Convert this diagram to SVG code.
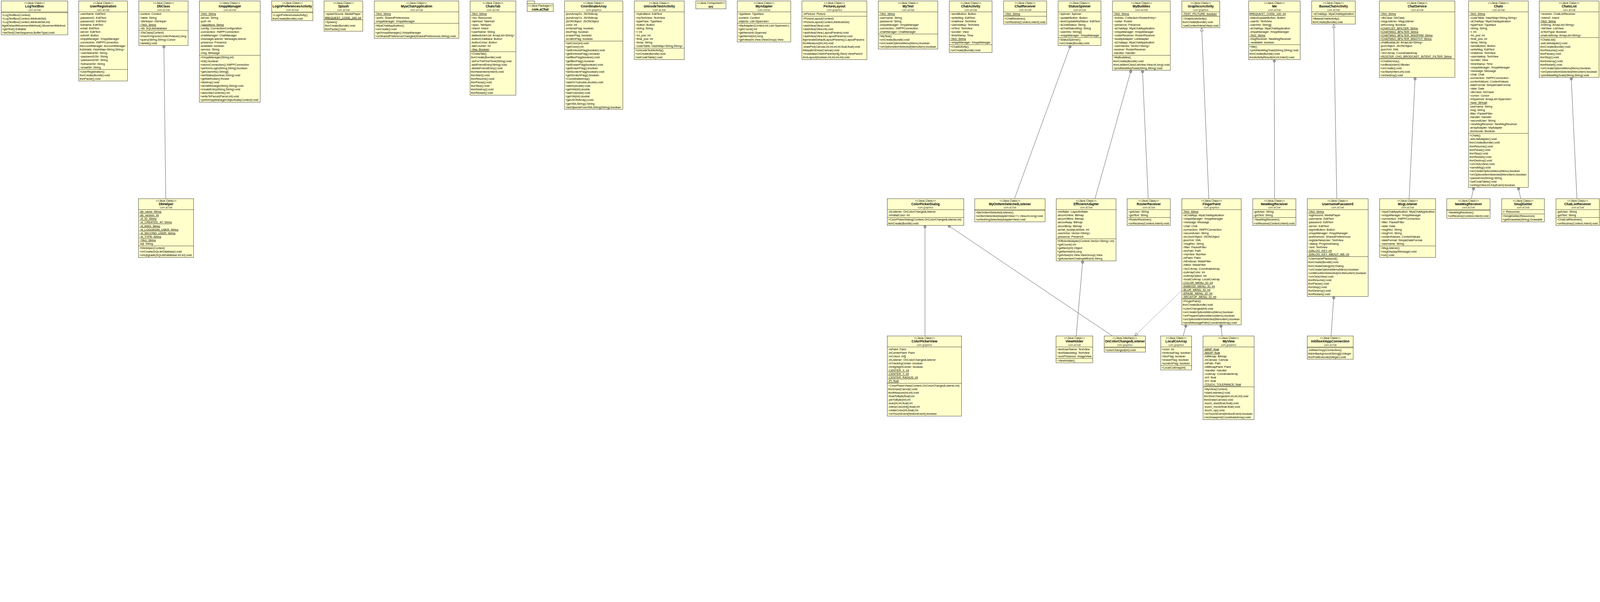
<svg xmlns="http://www.w3.org/2000/svg" width="5863" height="1540" viewBox="0 0 5863 1540" preserveAspectRatio="xMinYMin meet">
<style>
svg{width:100vw;height:100vh;max-width:5863px;max-height:1540px;display:block}
text{font-family:"Liberation Sans",Arial,"DejaVu Sans",sans-serif;font-size:10.5px;fill:#000}
.c{text-anchor:middle}
.n{font-weight:bold;font-size:12px}
.p{font-size:9.5px;fill:#404040}
.u{text-decoration:underline}
.b rect{fill:#FFFFCC;stroke:#000;stroke-width:1}
.b line{stroke:#000;stroke-width:1}
#edges path{fill:none;stroke:#000;stroke-width:0.9}
#edges .d{stroke-dasharray:3 2}
</style>
<defs>
<marker id="nest" markerUnits="userSpaceOnUse" viewBox="-1 -6 12 12" refX="0" refY="0" markerWidth="12" markerHeight="12" orient="auto" overflow="visible">
<circle cx="5" cy="0" r="4.5" fill="none" stroke="#000" stroke-width="0.9"/>
<line x1="5" y1="-4.5" x2="5" y2="4.5" stroke="#000" stroke-width="0.9"/>
</marker>
<marker id="gen" markerUnits="userSpaceOnUse" viewBox="-13 -6 14 12" refX="0" refY="0" markerWidth="14" markerHeight="12" orient="auto" overflow="visible">
<path d="M0 0L-12 -5L-12 5Z" fill="#fff" stroke="#000" stroke-width="0.9" stroke-dasharray="none"/>
</marker>
</defs>
<rect x="0" y="0" width="5863" height="1540" fill="#fff"/>
<g transform="translate(0.5 0.5)">
<g id="edges">
<path d="M600 166L607 727" marker-start="url(#nest)"/>
<path d="M3922 166L3717 727" marker-start="url(#nest)"/>
<path d="M4144 257L4012 727" marker-start="url(#nest)"/>
<path d="M4186 257L4207 727" marker-start="url(#nest)"/>
<path d="M4429 727L4403 101" marker-end="url(#gen)"/>
<path d="M4669 218L4670 727" marker-start="url(#nest)"/>
<path d="M4898 727L4887 88" marker-end="url(#gen)"/>
<path d="M5185 283L5163 727" marker-start="url(#nest)"/>
<path d="M5757 283L5778 727" marker-start="url(#nest)"/>
<path d="M5400 686L5391 727" marker-start="url(#nest)"/>
<path d="M5563 686L5572 727" marker-start="url(#nest)"/>
<path d="M3389 825L3389 1230" marker-start="url(#nest)"/>
<path d="M3474 825L4076 1230" marker-start="url(#nest)"/>
<path d="M3967 955L3943 1230" marker-start="url(#nest)"/>
<path class="d" d="M4330 1063L4157 1230" marker-end="url(#gen)"/>
<path d="M4346 1189L4335 1230" marker-start="url(#nest)"/>
<path d="M4473 1189L4478 1230" marker-start="url(#nest)"/>
<path d="M4887 1085L4877 1230" marker-start="url(#nest)"/>
</g>

<g id="LogTextBox" class="b">
<rect x="4" y="3" width="244" height="124"/>
<line x1="4" y1="43" x2="248" y2="43"/><line x1="4" y1="46" x2="248" y2="46"/>
<text class="c" x="126" y="14">&lt;&lt;Java Class&gt;&gt;</text>
<text class="c n" x="126" y="27">LogTextBox</text>
<text class="c p" x="126" y="39">com.aChat</text>
<text x="7" y="57.5"><tspan>+LogTextBox(Context)</tspan><tspan x="7" dy="13">+LogTextBox(Context,AttributeSet)</tspan><tspan x="7" dy="13">+LogTextBox(Context,AttributeSet,int)</tspan><tspan x="7" dy="13">#getDefaultMovementMethod():MovementMethod</tspan><tspan x="7" dy="13">+getText():Editable</tspan><tspan x="7" dy="13">+setText(CharSequence,BufferType):void</tspan></text>
</g>

<g id="UserRegistration" class="b">
<rect x="288" y="3" width="179" height="293"/>
<line x1="288" y1="43" x2="467" y2="43"/><line x1="288" y1="254" x2="467" y2="254"/>
<text class="c" x="377.5" y="14">&lt;&lt;Java Class&gt;&gt;</text>
<text class="c n" x="377.5" y="27">UserRegistration</text>
<text class="c p" x="377.5" y="39">com.aChat</text>
<text x="291" y="54.5"><tspan>-userName: EditText</tspan><tspan x="291" dy="13">-password1: EditText</tspan><tspan x="291" dy="13">-password2: EditText</tspan><tspan x="291" dy="13">-fullname: EditText</tspan><tspan x="291" dy="13">-email: EditText</tspan><tspan x="291" dy="13">-server: EditText</tspan><tspan x="291" dy="13">-submit: Button</tspan><tspan x="291" dy="13">-xmppManager: XmppManager</tspan><tspan x="291" dy="13">-connection: XMPPConnection</tspan><tspan x="291" dy="13">#accountManager: AccountManager</tspan><tspan x="291" dy="13">#uDetails: HashMap&lt;String,String&gt;</tspan><tspan x="291" dy="13">~userNameStr: String</tspan><tspan x="291" dy="13">~password1Str: String</tspan><tspan x="291" dy="13">~password2Str: String</tspan><tspan x="291" dy="13">~fullnameStr: String</tspan><tspan x="291" dy="13">~emailStr: String</tspan></text>
<text x="291" y="265.5"><tspan>+UserRegistration()</tspan><tspan x="291" dy="13">#onCreate(Bundle):void</tspan><tspan x="291" dy="13">#onPause():void</tspan></text>
</g>

<g id="DbClass" class="b">
<rect x="508" y="3" width="181" height="163"/>
<line x1="508" y1="43" x2="689" y2="43"/><line x1="508" y1="111" x2="689" y2="111"/>
<text class="c" x="598.5" y="14">&lt;&lt;Java Class&gt;&gt;</text>
<text class="c n" x="598.5" y="27">DbClass</text>
<text class="c p" x="598.5" y="39">com.aChat</text>
<text x="511" y="54.5"><tspan>-context: Context</tspan><tspan x="511" dy="13">~table: String</tspan><tspan x="511" dy="13">~dbHelper: DbHelper</tspan><tspan x="511" dy="13" class="u">~TAG: String</tspan><tspan x="511" dy="13">~db: SQLiteDatabase</tspan></text>
<text x="511" y="122.5"><tspan>~DbClass(Context)</tspan><tspan x="511" dy="13">+insertOrIgnore(ContentValues):long</tspan><tspan x="511" dy="13">+query(String,String):Cursor</tspan><tspan x="511" dy="13">+delete():void</tspan></text>
</g>

<g id="XmppManager" class="b">
<rect x="730" y="3" width="223" height="371"/>
<line x1="730" y1="43" x2="953" y2="43"/><line x1="730" y1="202" x2="953" y2="202"/>
<text class="c" x="841.5" y="14">&lt;&lt;Java Class&gt;&gt;</text>
<text class="c n" x="841.5" y="27">XmppManager</text>
<text class="c p" x="841.5" y="39">com.aChat</text>
<text x="733" y="54.5"><tspan class="u">-TAG: String</tspan><tspan x="733" dy="13">-server: String</tspan><tspan x="733" dy="13">-port: int</tspan><tspan x="733" dy="13" class="u">~passWord: String</tspan><tspan x="733" dy="13">-config: ConnectionConfiguration</tspan><tspan x="733" dy="13">-connection: XMPPConnection</tspan><tspan x="733" dy="13">-chatManager: ChatManager</tspan><tspan x="733" dy="13">-messageListener: MessageListener</tspan><tspan x="733" dy="13">-presence: Presence</tspan><tspan x="733" dy="13">-available: boolean</tspan><tspan x="733" dy="13">-service: String</tspan><tspan x="733" dy="13">-msg: Message</tspan></text>
<text x="733" y="213.5"><tspan>+XmppManager(String,int)</tspan><tspan x="733" dy="13">+init():boolean</tspan><tspan x="733" dy="13">+returnConnection():XMPPConnection</tspan><tspan x="733" dy="13">+performLogin(String,String):boolean</tspan><tspan x="733" dy="13">+getUserInfo():String[]</tspan><tspan x="733" dy="13">+setStatus(boolean,String):void</tspan><tspan x="733" dy="13">+getMeRoster():Roster</tspan><tspan x="733" dy="13">+destroy():void</tspan><tspan x="733" dy="13">+sendMessage(String,String):void</tspan><tspan x="733" dy="13">+createEntry(String,String):void</tspan><tspan x="733" dy="13">+describeContents():int</tspan><tspan x="733" dy="13">+writeToParcel(Parcel,int):void</tspan><tspan x="733" dy="13">+printXmppManagerObjectData(Context):void</tspan></text>
</g>

<g id="LoginPreferencesActivity" class="b">
<rect x="995" y="3" width="151" height="72"/>
<line x1="995" y1="43" x2="1146" y2="43"/><line x1="995" y1="46" x2="1146" y2="46"/>
<text class="c" x="1070.5" y="14">&lt;&lt;Java Class&gt;&gt;</text>
<text class="c n" x="1070.5" y="27">LoginPreferencesActivity</text>
<text class="c p" x="1070.5" y="39">com.aChat</text>
<text x="998" y="57.5"><tspan>+LoginPreferencesActivity()</tspan><tspan x="998" dy="13">#onCreate(Bundle):void</tspan></text>
</g>

<g id="Splash" class="b">
<rect x="1187" y="3" width="142" height="111"/>
<line x1="1187" y1="43" x2="1329" y2="43"/><line x1="1187" y1="72" x2="1329" y2="72"/>
<text class="c" x="1258" y="14">&lt;&lt;Java Class&gt;&gt;</text>
<text class="c n" x="1258" y="27">Splash</text>
<text class="c p" x="1258" y="39">com.aChat</text>
<text x="1190" y="54.5"><tspan>~splashSound: MediaPlayer</tspan><tspan x="1190" dy="13" class="u">#REQUEST_CODE_100: int</tspan></text>
<text x="1190" y="83.5"><tspan>+Splash()</tspan><tspan x="1190" dy="13">#onCreate(Bundle):void</tspan><tspan x="1190" dy="13">#onPause():void</tspan></text>
</g>

<g id="MyaChatApplication" class="b">
<rect x="1371" y="3" width="310" height="137"/>
<line x1="1371" y1="43" x2="1681" y2="43"/><line x1="1371" y1="85" x2="1681" y2="85"/>
<text class="c" x="1526" y="14">&lt;&lt;Java Class&gt;&gt;</text>
<text class="c n" x="1526" y="27">MyaChatApplication</text>
<text class="c p" x="1526" y="39">com.aChat</text>
<text x="1374" y="54.5"><tspan class="u">-TAG: String</tspan><tspan x="1374" dy="13">~prefs: SharedPreferences</tspan><tspan x="1374" dy="13">-xmppManager: XmppManager</tspan></text>
<text x="1374" y="96.5"><tspan>+MyaChatApplication()</tspan><tspan x="1374" dy="13">+onCreate():void</tspan><tspan x="1374" dy="13">+getXmppManager():XmppManager</tspan><tspan x="1374" dy="13">+onSharedPreferenceChanged(SharedPreferences,String):void</tspan></text>
</g>

<g id="ChatsTab" class="b">
<rect x="1722" y="3" width="168" height="345"/>
<line x1="1722" y1="43" x2="1890" y2="43"/><line x1="1722" y1="189" x2="1890" y2="189"/>
<text class="c" x="1806" y="14">&lt;&lt;Java Class&gt;&gt;</text>
<text class="c n" x="1806" y="27">ChatsTab</text>
<text class="c p" x="1806" y="39">com.aChat</text>
<text x="1725" y="54.5"><tspan class="u">-TAG: String</tspan><tspan x="1725" dy="13">~res: Resources</tspan><tspan x="1725" dy="13">~tabHost: TabHost</tspan><tspan x="1725" dy="13">~spec: TabSpec</tspan><tspan x="1725" dy="13">~intent: Intent</tspan><tspan x="1725" dy="13">+userName: String</tspan><tspan x="1725" dy="13">-tabbedUserList: ArrayList&lt;String&gt;</tspan><tspan x="1725" dy="13">-buttonChatBack: Button</tspan><tspan x="1725" dy="13">-buttonClose: Button</tspan><tspan x="1725" dy="13">-tabCounter: int</tspan><tspan x="1725" dy="13" class="u">~flag: Boolean</tspan></text>
<text x="1725" y="200.5"><tspan>+ChatsTab()</tspan><tspan x="1725" dy="13">#onCreate(Bundle):void</tspan><tspan x="1725" dy="13">-doForTheFirstTime(String):void</tspan><tspan x="1725" dy="13">-addFriendEntry(String):void</tspan><tspan x="1725" dy="13">-deleteFriendEntry():void</tspan><tspan x="1725" dy="13">#onNewIntent(Intent):void</tspan><tspan x="1725" dy="13">#onStart():void</tspan><tspan x="1725" dy="13">#onResume():void</tspan><tspan x="1725" dy="13">#onPause():void</tspan><tspan x="1725" dy="13">#onStop():void</tspan><tspan x="1725" dy="13">#onDestroy():void</tspan><tspan x="1725" dy="13">#onRestart():void</tspan></text>
</g>

<g id="pkg-com.aChat" class="b">
<rect x="1931" y="3" width="28" height="10"/>
<rect x="1931" y="13" width="96" height="29"/>
<text class="c" x="1979" y="24.5">&lt;&lt;Java Package&gt;&gt;</text>
<text class="c n" x="1979" y="38">com.aChat</text>
</g>

<g id="CoordinateArray" class="b">
<rect x="2068" y="3" width="214" height="397"/>
<line x1="2068" y1="43" x2="2282" y2="43"/><line x1="2068" y1="150" x2="2282" y2="150"/>
<text class="c" x="2175" y="14">&lt;&lt;Java Class&gt;&gt;</text>
<text class="c n" x="2175" y="27">CoordinateArray</text>
<text class="c p" x="2175" y="39">com.graphics</text>
<text x="2071" y="54.5"><tspan>-jsonArrayXs: JSONArray</tspan><tspan x="2071" dy="13">-jsonArrayYs: JSONArray</tspan><tspan x="2071" dy="13">-jSONObject: JSONObject</tspan><tspan x="2071" dy="13">-color: int</tspan><tspan x="2071" dy="13">-embossFlag: boolean</tspan><tspan x="2071" dy="13">-blurFlag: boolean</tspan><tspan x="2071" dy="13">-eraserFlag: boolean</tspan><tspan x="2071" dy="13">-scratchFlag: boolean</tspan></text>
<text x="2071" y="161.5"><tspan>+setColor(int):void</tspan><tspan x="2071" dy="13">+getColor():int</tspan><tspan x="2071" dy="13">+setEmbossFlag(boolean):void</tspan><tspan x="2071" dy="13">+getEmbossFlag():boolean</tspan><tspan x="2071" dy="13">+setBlurFlag(boolean):void</tspan><tspan x="2071" dy="13">+getBlurFlag():boolean</tspan><tspan x="2071" dy="13">+setEraserFlag(boolean):void</tspan><tspan x="2071" dy="13">+getEraserFlag():boolean</tspan><tspan x="2071" dy="13">+setScratchFlag(boolean):void</tspan><tspan x="2071" dy="13">+getScratchFlag():boolean</tspan><tspan x="2071" dy="13">+CoordinateArray()</tspan><tspan x="2071" dy="13">+addXnY(double,double):void</tspan><tspan x="2071" dy="13">+addX(double):void</tspan><tspan x="2071" dy="13">+getXAt(int):double</tspan><tspan x="2071" dy="13">+addY(double):void</tspan><tspan x="2071" dy="13">+getYAt(int):double</tspan><tspan x="2071" dy="13">+getJSONArray():void</tspan><tspan x="2071" dy="13">+getXMLString():String</tspan><tspan x="2071" dy="13">+setOjbectsFromXMLString(String):boolean</tspan></text>
</g>

<g id="UnicodeTestActivity" class="b">
<rect x="2324" y="3" width="183" height="215"/>
<line x1="2324" y1="43" x2="2507" y2="43"/><line x1="2324" y1="176" x2="2507" y2="176"/>
<text class="c" x="2415.5" y="14">&lt;&lt;Java Class&gt;&gt;</text>
<text class="c n" x="2415.5" y="27">UnicodeTestActivity</text>
<text class="c p" x="2415.5" y="39">com.aChat</text>
<text x="2327" y="54.5"><tspan>~myEdittext: EditText</tspan><tspan x="2327" dy="13">~myTextView: TextView</tspan><tspan x="2327" dy="13">~typeFace: Typeface</tspan><tspan x="2327" dy="13">~button: Button</tspan><tspan x="2327" dy="13">~string: String</tspan><tspan x="2327" dy="13">~i: int</tspan><tspan x="2327" dy="13">~ini_pos: int</tspan><tspan x="2327" dy="13">~final_pos: int</tspan><tspan x="2327" dy="13">~temp: String</tspan><tspan x="2327" dy="13">~codeTable: HashMap&lt;String,String&gt;</tspan></text>
<text x="2327" y="187.5"><tspan>+UnicodeTestActivity()</tspan><tspan x="2327" dy="13">+onCreate(Bundle):void</tspan><tspan x="2327" dy="13">+setCodeTable():void</tspan></text>
</g>

<g id="src" class="b">
<rect x="2549" y="3" width="111" height="29"/>
<text class="c" x="2604.5" y="14.5">&lt;&lt;Java Component&gt;&gt;</text>
<text class="c n" x="2604.5" y="27.5">src</text>
</g>

<g id="MyAdapter" class="b">
<rect x="2701" y="3" width="196" height="150"/>
<line x1="2701" y1="43" x2="2897" y2="43"/><line x1="2701" y1="85" x2="2897" y2="85"/>
<text class="c" x="2799" y="14">&lt;&lt;Java Class&gt;&gt;</text>
<text class="c n" x="2799" y="27">MyAdapter</text>
<text class="c p" x="2799" y="39">com.extras</text>
<text x="2704" y="54.5"><tspan>~typeface: Typeface</tspan><tspan x="2704" dy="13">-context: Context</tspan><tspan x="2704" dy="13">-objects: List&lt;Spanned&gt;</tspan></text>
<text x="2704" y="96.5"><tspan>+MyAdapter(Context,int,List&lt;Spanned&gt;)</tspan><tspan x="2704" dy="13">+getCount():int</tspan><tspan x="2704" dy="13">+getItem(int):Spanned</tspan><tspan x="2704" dy="13">+getItemId(int):long</tspan><tspan x="2704" dy="13">+getView(int,View,ViewGroup):View</tspan></text>
</g>

<g id="PictureLayout" class="b">
<rect x="2938" y="3" width="238" height="215"/>
<line x1="2938" y1="43" x2="3176" y2="43"/><line x1="2938" y1="59" x2="3176" y2="59"/>
<text class="c" x="3057" y="14">&lt;&lt;Java Class&gt;&gt;</text>
<text class="c n" x="3057" y="27">PictureLayout</text>
<text class="c p" x="3057" y="39">com.graphics</text>
<text x="2941" y="54.5">-mPicture: Picture</text>
<text x="2941" y="70.5"><tspan>+PictureLayout(Context)</tspan><tspan x="2941" dy="13">+PictureLayout(Context,AttributeSet)</tspan><tspan x="2941" dy="13">+addView(View):void</tspan><tspan x="2941" dy="13">+addView(View,int):void</tspan><tspan x="2941" dy="13">+addView(View,LayoutParams):void</tspan><tspan x="2941" dy="13">+addView(View,int,LayoutParams):void</tspan><tspan x="2941" dy="13">#generateDefaultLayoutParams():LayoutParams</tspan><tspan x="2941" dy="13">#onMeasure(int,int):void</tspan><tspan x="2941" dy="13">-drawPict(Canvas,int,int,int,int,float,float):void</tspan><tspan x="2941" dy="13">#dispatchDraw(Canvas):void</tspan><tspan x="2941" dy="13">+invalidateChildInParent(int[],Rect):ViewParent</tspan><tspan x="2941" dy="13">#onLayout(boolean,int,int,int,int):void</tspan></text>
</g>

<g id="MyTest" class="b">
<rect x="3218" y="3" width="218" height="176"/>
<line x1="3218" y1="43" x2="3436" y2="43"/><line x1="3218" y1="124" x2="3436" y2="124"/>
<text class="c" x="3327" y="14">&lt;&lt;Java Class&gt;&gt;</text>
<text class="c n" x="3327" y="27">MyTest</text>
<text class="c p" x="3327" y="39">com.aChat</text>
<text x="3221" y="54.5"><tspan class="u">-TAG: String</tspan><tspan x="3221" dy="13">-username: String</tspan><tspan x="3221" dy="13">-password: String</tspan><tspan x="3221" dy="13">-xmppManager: XmppManager</tspan><tspan x="3221" dy="13">-connection: XMPPConnection</tspan><tspan x="3221" dy="13">-chatManager: ChatManager</tspan></text>
<text x="3221" y="135.5"><tspan>+MyTest()</tspan><tspan x="3221" dy="13">+onCreate(Bundle):void</tspan><tspan x="3221" dy="13">+onCreateOptionsMenu(Menu):boolean</tspan><tspan x="3221" dy="13">+onOptionsItemSelected(MenuItem):boolean</tspan></text>
</g>

<g id="ChatActivity" class="b">
<rect x="3478" y="3" width="157" height="189"/>
<line x1="3478" y1="43" x2="3635" y2="43"/><line x1="3478" y1="163" x2="3635" y2="163"/>
<text class="c" x="3556.5" y="14">&lt;&lt;Java Class&gt;&gt;</text>
<text class="c n" x="3556.5" y="27">ChatActivity</text>
<text class="c p" x="3556.5" y="39">com.aChat</text>
<text x="3481" y="54.5"><tspan>~sendButton: Button</tspan><tspan x="3481" dy="13">~writeMsg: EditText</tspan><tspan x="3481" dy="13">~chatArea: TextView</tspan><tspan x="3481" dy="13">~userIdattop: TextView</tspan><tspan x="3481" dy="13">~mText: TextView</tspan><tspan x="3481" dy="13">~scroller: View</tspan><tspan x="3481" dy="13">~timeStamp: Time</tspan><tspan x="3481" dy="13" class="u">-TAG: String</tspan><tspan x="3481" dy="13">~xmppManager: XmppManager</tspan></text>
<text x="3481" y="174.5"><tspan>+ChatActivity()</tspan><tspan x="3481" dy="13">+onCreate(Bundle):void</tspan></text>
</g>

<g id="ChatReceiver" class="b">
<rect x="3677" y="3" width="158" height="85"/>
<line x1="3677" y1="43" x2="3835" y2="43"/><line x1="3677" y1="59" x2="3835" y2="59"/>
<text class="c" x="3756" y="14">&lt;&lt;Java Class&gt;&gt;</text>
<text class="c n" x="3756" y="27">ChatReceiver</text>
<text class="c p" x="3756" y="39">com.aChat</text>
<text x="3680" y="54.5" class="u">-TAG: String</text>
<text x="3680" y="70.5"><tspan>+ChatReceiver()</tspan><tspan x="3680" dy="13">+onReceive(Context,Intent):void</tspan></text>
</g>

<g id="StatusSpinner" class="b">
<rect x="3877" y="3" width="157" height="163"/>
<line x1="3877" y1="43" x2="4034" y2="43"/><line x1="3877" y1="137" x2="4034" y2="137"/>
<text class="c" x="3955.5" y="14">&lt;&lt;Java Class&gt;&gt;</text>
<text class="c n" x="3955.5" y="27">StatusSpinner</text>
<text class="c p" x="3955.5" y="39">com.aChat</text>
<text x="3880" y="54.5"><tspan>~spinner: Spinner</tspan><tspan x="3880" dy="13">~updateButton: Button</tspan><tspan x="3880" dy="13">~text2UpdateMyStatus: EditText</tspan><tspan x="3880" dy="13">~aChatStatus: String</tspan><tspan x="3880" dy="13">~aChatStatusMsg: String</tspan><tspan x="3880" dy="13">~userInfo: String[]</tspan><tspan x="3880" dy="13">~xmppManager: XmppManager</tspan></text>
<text x="3880" y="148.5"><tspan>+StatusSpinner()</tspan><tspan x="3880" dy="13">+onCreate(Bundle):void</tspan></text>
</g>

<g id="MyBuddies" class="b">
<rect x="4076" y="3" width="212" height="254"/>
<line x1="4076" y1="43" x2="4288" y2="43"/><line x1="4076" y1="202" x2="4288" y2="202"/>
<text class="c" x="4182" y="14">&lt;&lt;Java Class&gt;&gt;</text>
<text class="c n" x="4182" y="27">MyBuddies</text>
<text class="c p" x="4182" y="39">com.aChat</text>
<text x="4079" y="54.5"><tspan class="u">-TAG: String</tspan><tspan x="4079" dy="13">~entries: Collection&lt;RosterEntry&gt;</tspan><tspan x="4079" dy="13">~roster: Roster</tspan><tspan x="4079" dy="13">~presence: Presence</tspan><tspan x="4079" dy="13">~aChatApp: MyaChatApplication</tspan><tspan x="4079" dy="13">~xmppManager: XmppManager</tspan><tspan x="4079" dy="13">~rosterReceiver: RosterReceiver</tspan><tspan x="4079" dy="13">~buddyAdapter: ListAdapter</tspan><tspan x="4079" dy="13">~aChatapp: MyaChatApplication</tspan><tspan x="4079" dy="13">~usernames: Vector&lt;String&gt;</tspan><tspan x="4079" dy="13">-receiver: RosterReceiver</tspan><tspan x="4079" dy="13">-handler: Handler</tspan></text>
<text x="4079" y="213.5"><tspan>+MyBuddies()</tspan><tspan x="4079" dy="13">#onCreate(Bundle):void</tspan><tspan x="4079" dy="13">#onListItemClick(ListView,View,int,long):void</tspan><tspan x="4079" dy="13">+printNewMsgToast(String,String):void</tspan></text>
</g>

<g id="GraphicsActivity" class="b">
<rect x="4330" y="3" width="139" height="98"/>
<line x1="4330" y1="43" x2="4469" y2="43"/><line x1="4330" y1="59" x2="4469" y2="59"/>
<text class="c" x="4399.5" y="14">&lt;&lt;Java Class&gt;&gt;</text>
<text class="c n" x="4399.5" y="27">GraphicsActivity</text>
<text class="c p" x="4399.5" y="39">com.graphics</text>
<text x="4333" y="54.5" class="u">-TEST_PICTURE: boolean</text>
<text x="4333" y="70.5"><tspan>~GraphicsActivity()</tspan><tspan x="4333" dy="13">#onCreate(Bundle):void</tspan><tspan x="4333" dy="13">+setContentView(View):void</tspan></text>
</g>

<g id="Me" class="b">
<rect x="4575" y="3" width="189" height="215"/>
<line x1="4575" y1="43" x2="4764" y2="43"/><line x1="4575" y1="163" x2="4764" y2="163"/>
<text class="c" x="4669.5" y="14">&lt;&lt;Java Class&gt;&gt;</text>
<text class="c n" x="4669.5" y="27">Me</text>
<text class="c p" x="4669.5" y="39">com.aChat</text>
<text x="4578" y="54.5"><tspan class="u">#REQUEST_CODE_100: int</tspan><tspan x="4578" dy="13">-statusUpdateButton: Button</tspan><tspan x="4578" dy="13">-userID: TextView</tspan><tspan x="4578" dy="13">-userInfo: String[]</tspan><tspan x="4578" dy="13">-aChatApp: MyaChatApplication</tspan><tspan x="4578" dy="13">-xmppManager: XmppManager</tspan><tspan x="4578" dy="13" class="u">-TAG: String</tspan><tspan x="4578" dy="13">-msgReceiver: NewMsgReceiver</tspan><tspan x="4578" dy="13">~available: boolean</tspan></text>
<text x="4578" y="174.5"><tspan>+Me()</tspan><tspan x="4578" dy="13">+printNewMsgToast(String,String):void</tspan><tspan x="4578" dy="13">#onCreate(Bundle):void</tspan><tspan x="4578" dy="13">#onActivityResult(int,int,Intent):void</tspan></text>
</g>

<g id="BaseaChatActivity" class="b">
<rect x="4806" y="3" width="160" height="85"/>
<line x1="4806" y1="43" x2="4966" y2="43"/><line x1="4806" y1="59" x2="4966" y2="59"/>
<text class="c" x="4886" y="14">&lt;&lt;Java Class&gt;&gt;</text>
<text class="c n" x="4886" y="27">BaseaChatActivity</text>
<text class="c p" x="4886" y="39">com.aChat</text>
<text x="4809" y="54.5">~aChatApp: MyaChatApplication</text>
<text x="4809" y="70.5"><tspan>+BaseaChatActivity()</tspan><tspan x="4809" dy="13">#onCreate(Bundle):void</tspan></text>
</g>

<g id="ChatService" class="b">
<rect x="5054" y="3" width="277" height="280"/>
<line x1="5054" y1="43" x2="5331" y2="43"/><line x1="5054" y1="215" x2="5331" y2="215"/>
<text class="c" x="5192.5" y="14">&lt;&lt;Java Class&gt;&gt;</text>
<text class="c n" x="5192.5" y="27">ChatService</text>
<text class="c p" x="5192.5" y="39">com.aChat</text>
<text x="5057" y="54.5"><tspan class="u">-TAG: String</tspan><tspan x="5057" dy="13">~dbClass: DbClass</tspan><tspan x="5057" dy="13">-msgListener: MsgListener</tspan><tspan x="5057" dy="13">-isRunning: Boolean</tspan><tspan x="5057" dy="13" class="u">+CHATLIST_BFILTER: String</tspan><tspan x="5057" dy="13" class="u">+CHATMSG_BFILTER: String</tspan><tspan x="5057" dy="13" class="u">+CHATMSG_BFILTER_MSGFRM: String</tspan><tspan x="5057" dy="13" class="u">+CHATMSG_BFILTER_MSGTXT: String</tspan><tspan x="5057" dy="13">-chatBuddyList: ArrayList&lt;String&gt;</tspan><tspan x="5057" dy="13">-jsonObject: JSONObject</tspan><tspan x="5057" dy="13">-jsonXml: XML</tspan><tspan x="5057" dy="13">~recCArray: CoordinateArray</tspan><tspan x="5057" dy="13" class="u">+ROSTER_CHG_BRODCAST_INTENT_FILTER: String</tspan></text>
<text x="5057" y="226.5"><tspan>+ChatService()</tspan><tspan x="5057" dy="13">+onBind(Intent):IBinder</tspan><tspan x="5057" dy="13">+onCreate():void</tspan><tspan x="5057" dy="13">+onStart(Intent,int):void</tspan><tspan x="5057" dy="13">+onDestroy():void</tspan></text>
</g>

<g id="Chats" class="b">
<rect x="5381" y="3" width="219" height="683"/>
<line x1="5381" y1="43" x2="5600" y2="43"/><line x1="5381" y1="488" x2="5600" y2="488"/>
<text class="c" x="5490.5" y="14">&lt;&lt;Java Class&gt;&gt;</text>
<text class="c n" x="5490.5" y="27">Chats</text>
<text class="c p" x="5490.5" y="39">com.aChat</text>
<text x="5384" y="54.5"><tspan class="u">-TAG: String</tspan><tspan x="5384" dy="13">~codeTable: HashMap&lt;String,String&gt;</tspan><tspan x="5384" dy="13">~aChatApp: MyaChatApplication</tspan><tspan x="5384" dy="13">~typeFace: Typeface</tspan><tspan x="5384" dy="13">~string: String</tspan><tspan x="5384" dy="13">~i: int</tspan><tspan x="5384" dy="13">~ini_pos: int</tspan><tspan x="5384" dy="13">~final_pos: int</tspan><tspan x="5384" dy="13">~temp: String</tspan><tspan x="5384" dy="13">~sendButton: Button</tspan><tspan x="5384" dy="13">~writeMsg: EditText</tspan><tspan x="5384" dy="13">~chatArea: TextView</tspan><tspan x="5384" dy="13">~userIdattop: TextView</tspan><tspan x="5384" dy="13">~scroller: View</tspan><tspan x="5384" dy="13">~timeStamp: Time</tspan><tspan x="5384" dy="13">~xmppManager: XmppManager</tspan><tspan x="5384" dy="13">~message: Message</tspan><tspan x="5384" dy="13">~chat: Chat</tspan><tspan x="5384" dy="13">-connection: XMPPConnection</tspan><tspan x="5384" dy="13">-contentValues: ContentValues</tspan><tspan x="5384" dy="13">-dateFormat: SimpleDateFormat</tspan><tspan x="5384" dy="13">~date: Date</tspan><tspan x="5384" dy="13">~dbClass: DbClass</tspan><tspan x="5384" dy="13">~cursor: Cursor</tspan><tspan x="5384" dy="13">-mSpannes: ArrayList&lt;Spanned&gt;</tspan><tspan x="5384" dy="13" class="u">~type: String[]</tspan><tspan x="5384" dy="13">-username: String</tspan><tspan x="5384" dy="13">-msg: String</tspan><tspan x="5384" dy="13">-filter: PacketFilter</tspan><tspan x="5384" dy="13">-handler: Handler</tspan><tspan x="5384" dy="13">~secondUser: String</tspan><tspan x="5384" dy="13">~newMsgReceiver: NewMsgReceiver</tspan><tspan x="5384" dy="13">-arrayAdapter: MyAdapter</tspan><tspan x="5384" dy="13">-isUnicode: Boolean</tspan></text>
<text x="5384" y="499.5"><tspan>+Chats()</tspan><tspan x="5384" dy="13">-setListAdapter():void</tspan><tspan x="5384" dy="13">#onCreate(Bundle):void</tspan><tspan x="5384" dy="13">#onResume():void</tspan><tspan x="5384" dy="13">#onPause():void</tspan><tspan x="5384" dy="13">#onStop():void</tspan><tspan x="5384" dy="13">#onRestart():void</tspan><tspan x="5384" dy="13">#onDestroy():void</tspan><tspan x="5384" dy="13">+onClick(View):void</tspan><tspan x="5384" dy="13">+sendMsg():void</tspan><tspan x="5384" dy="13">+onCreateOptionsMenu(Menu):boolean</tspan><tspan x="5384" dy="13">+onOptionsItemSelected(MenuItem):boolean</tspan><tspan x="5384" dy="13">+parseEmo(String):String</tspan><tspan x="5384" dy="13">+setCodeTable():void</tspan><tspan x="5384" dy="13">+onKey(View,int,KeyEvent):boolean</tspan></text>
</g>

<g id="ChatsList" class="b">
<rect x="5640" y="3" width="219" height="280"/>
<line x1="5640" y1="43" x2="5859" y2="43"/><line x1="5640" y1="137" x2="5859" y2="137"/>
<text class="c" x="5749.5" y="14">&lt;&lt;Java Class&gt;&gt;</text>
<text class="c n" x="5749.5" y="27">ChatsList</text>
<text class="c p" x="5749.5" y="39">com.aChat</text>
<text x="5643" y="54.5"><tspan>~receiver: ChatListReceiver</tspan><tspan x="5643" dy="13">~intent2: Intent</tspan><tspan x="5643" dy="13" class="u">-TAG: String</tspan><tspan x="5643" dy="13">-mString: ArrayList&lt;String&gt;</tspan><tspan x="5643" dy="13">~listView: ListView</tspan><tspan x="5643" dy="13">-isTextType: Boolean</tspan><tspan x="5643" dy="13">-chatListArray: ArrayList&lt;String&gt;</tspan></text>
<text x="5643" y="148.5"><tspan>+ChatsList()</tspan><tspan x="5643" dy="13">-setListAdapter():void</tspan><tspan x="5643" dy="13">#onCreate(Bundle):void</tspan><tspan x="5643" dy="13">#onResume():void</tspan><tspan x="5643" dy="13">#onPause():void</tspan><tspan x="5643" dy="13">#onStop():void</tspan><tspan x="5643" dy="13">#onDestroy():void</tspan><tspan x="5643" dy="13">#onRestart():void</tspan><tspan x="5643" dy="13">+onCreateOptionsMenu(Menu):boolean</tspan><tspan x="5643" dy="13">+onOptionsItemSelected(MenuItem):boolean</tspan><tspan x="5643" dy="13">+printNewMsgToast(String,String):void</tspan></text>
</g>

<g id="DbHelper" class="b">
<rect x="507" y="727" width="202" height="215"/>
<line x1="507" y1="767" x2="709" y2="767"/><line x1="507" y1="900" x2="709" y2="900"/>
<text class="c" x="608" y="738">&lt;&lt;Java Class&gt;&gt;</text>
<text class="c n" x="608" y="751">DbHelper</text>
<text class="c p" x="608" y="763">com.aChat</text>
<text x="510" y="778.5"><tspan class="u">-db_name: String</tspan><tspan x="510" dy="13" class="u">-db_version: int</tspan><tspan x="510" dy="13" class="u">~A_ID: String</tspan><tspan x="510" dy="13" class="u">~A_CREATED_AT: String</tspan><tspan x="510" dy="13" class="u">~A_MSG: String</tspan><tspan x="510" dy="13" class="u">~A_LOGGEDIN_USER: String</tspan><tspan x="510" dy="13" class="u">~A_SECOND_USER: String</tspan><tspan x="510" dy="13" class="u">~A_TYPE: String</tspan><tspan x="510" dy="13" class="u">~TAG: String</tspan><tspan x="510" dy="13">-sql: String</tspan></text>
<text x="510" y="911.5"><tspan>+DbHelper(Context)</tspan><tspan x="510" dy="13">+onCreate(SQLiteDatabase):void</tspan><tspan x="510" dy="13">+onUpgrade(SQLiteDatabase,int,int):void</tspan></text>
</g>

<g id="ColorPickerDialog" class="b">
<rect x="3251" y="727" width="280" height="98"/>
<line x1="3251" y1="767" x2="3531" y2="767"/><line x1="3251" y1="796" x2="3531" y2="796"/>
<text class="c" x="3391" y="738">&lt;&lt;Java Class&gt;&gt;</text>
<text class="c n" x="3391" y="751">ColorPickerDialog</text>
<text class="c p" x="3391" y="763">com.graphics</text>
<text x="3254" y="778.5"><tspan>-mListener: OnColorChangedListener</tspan><tspan x="3254" dy="13">-mInitialColor: int</tspan></text>
<text x="3254" y="807.5"><tspan>+ColorPickerDialog(Context,OnColorChangedListener,int)</tspan><tspan x="3254" dy="13">#onCreate(Bundle):void</tspan></text>
</g>

<g id="MyOnItemSelectedListener" class="b">
<rect x="3571" y="727" width="258" height="85"/>
<line x1="3571" y1="767" x2="3829" y2="767"/><line x1="3571" y1="770" x2="3829" y2="770"/>
<text class="c" x="3700" y="738">&lt;&lt;Java Class&gt;&gt;</text>
<text class="c n" x="3700" y="751">MyOnItemSelectedListener</text>
<text class="c p" x="3700" y="763">com.aChat</text>
<text x="3574" y="781.5"><tspan>+MyOnItemSelectedListener()</tspan><tspan x="3574" dy="13">+onItemSelected(AdapterView&lt;?&gt;,View,int,long):void</tspan><tspan x="3574" dy="13">+onNothingSelected(AdapterView):void</tspan></text>
</g>

<g id="EfficientAdapter" class="b">
<rect x="3870" y="727" width="219" height="228"/>
<line x1="3870" y1="767" x2="4089" y2="767"/><line x1="3870" y1="874" x2="4089" y2="874"/>
<text class="c" x="3979.5" y="738">&lt;&lt;Java Class&gt;&gt;</text>
<text class="c n" x="3979.5" y="751">EfficientAdapter</text>
<text class="c p" x="3979.5" y="763">com.aChat</text>
<text x="3873" y="778.5"><tspan>-mInflater: LayoutInflater</tspan><tspan x="3873" dy="13">-aIconOnline: Bitmap</tspan><tspan x="3873" dy="13">-aIconOffline: Bitmap</tspan><tspan x="3873" dy="13">-aIconAway: Bitmap</tspan><tspan x="3873" dy="13">-aIconBusy: Bitmap</tspan><tspan x="3873" dy="13">-achat_buddyListSize: int</tspan><tspan x="3873" dy="13">-userInfos: Vector&lt;String&gt;</tspan><tspan x="3873" dy="13">-presence: Presence</tspan></text>
<text x="3873" y="885.5"><tspan>+EfficientAdapter(Context,Vector&lt;String&gt;,int)</tspan><tspan x="3873" dy="13">+getCount():int</tspan><tspan x="3873" dy="13">+getItem(int):Object</tspan><tspan x="3873" dy="13">+getItemId(int):long</tspan><tspan x="3873" dy="13">+getView(int,View,ViewGroup):View</tspan><tspan x="3873" dy="13">+getUserIamChatingWith(int):String</tspan></text>
</g>

<g id="RosterReceiver" class="b">
<rect x="4130" y="727" width="158" height="98"/>
<line x1="4130" y1="767" x2="4288" y2="767"/><line x1="4130" y1="796" x2="4288" y2="796"/>
<text class="c" x="4209" y="738">&lt;&lt;Java Class&gt;&gt;</text>
<text class="c n" x="4209" y="751">RosterReceiver</text>
<text class="c p" x="4209" y="763">com.aChat</text>
<text x="4133" y="778.5"><tspan>~gotUser: String</tspan><tspan x="4133" dy="13">~gotText: String</tspan></text>
<text x="4133" y="807.5"><tspan>+RosterReceiver()</tspan><tspan x="4133" dy="13">+onReceive(Context,Intent):void</tspan></text>
</g>

<g id="FingerPaint" class="b">
<rect x="4330" y="727" width="218" height="462"/>
<line x1="4330" y1="767" x2="4548" y2="767"/><line x1="4330" y1="1095" x2="4548" y2="1095"/>
<text class="c" x="4439" y="738">&lt;&lt;Java Class&gt;&gt;</text>
<text class="c n" x="4439" y="751">FingerPaint</text>
<text class="c p" x="4439" y="763">com.graphics</text>
<text x="4333" y="778.5"><tspan class="u">-TAG: String</tspan><tspan x="4333" dy="13">~aChatApp: MyaChatApplication</tspan><tspan x="4333" dy="13">~xmppManager: XmppManager</tspan><tspan x="4333" dy="13">~message: Message</tspan><tspan x="4333" dy="13">~chat: Chat</tspan><tspan x="4333" dy="13">-connection: XMPPConnection</tspan><tspan x="4333" dy="13">~secondUser: String</tspan><tspan x="4333" dy="13">-recJsonObject: JSONObject</tspan><tspan x="4333" dy="13">-jsonXml: XML</tspan><tspan x="4333" dy="13">~msgRec: String</tspan><tspan x="4333" dy="13">~filter: PacketFilter</tspan><tspan x="4333" dy="13">-recPath: Path</tspan><tspan x="4333" dy="13">~myView: MyView</tspan><tspan x="4333" dy="13">-mPaint: Paint</tspan><tspan x="4333" dy="13">-mEmboss: MaskFilter</tspan><tspan x="4333" dy="13">-mBlur: MaskFilter</tspan><tspan x="4333" dy="13">~recCArray: CoordinateArray</tspan><tspan x="4333" dy="13">-coArrayColor: int</tspan><tspan x="4333" dy="13">-coArrayOption: int</tspan><tspan x="4333" dy="13">~localCoArray: LocalCoArray</tspan><tspan x="4333" dy="13" class="u">-COLOR_MENU_ID: int</tspan><tspan x="4333" dy="13" class="u">-EMBOSS_MENU_ID: int</tspan><tspan x="4333" dy="13" class="u">-BLUR_MENU_ID: int</tspan><tspan x="4333" dy="13" class="u">-ERASE_MENU_ID: int</tspan><tspan x="4333" dy="13" class="u">-SRCATOP_MENU_ID: int</tspan></text>
<text x="4333" y="1106.5"><tspan>+FingerPaint()</tspan><tspan x="4333" dy="13">#onCreate(Bundle):void</tspan><tspan x="4333" dy="13">+colorChanged(int):void</tspan><tspan x="4333" dy="13">+onCreateOptionsMenu(Menu):boolean</tspan><tspan x="4333" dy="13">+onPrepareOptionsMenu(Menu):boolean</tspan><tspan x="4333" dy="13">+onOptionsItemSelected(MenuItem):boolean</tspan><tspan x="4333" dy="13">+sendMessagePath(CoordinateArray):void</tspan></text>
</g>

<g id="NewMsgReceiver" class="b">
<rect x="4590" y="727" width="158" height="98"/>
<line x1="4590" y1="767" x2="4748" y2="767"/><line x1="4590" y1="796" x2="4748" y2="796"/>
<text class="c" x="4669" y="738">&lt;&lt;Java Class&gt;&gt;</text>
<text class="c n" x="4669" y="751">NewMsgReceiver</text>
<text class="c p" x="4669" y="763">com.aChat</text>
<text x="4593" y="778.5"><tspan>-gotUser: String</tspan><tspan x="4593" dy="13">-gotText: String</tspan></text>
<text x="4593" y="807.5"><tspan>~NewMsgReceiver()</tspan><tspan x="4593" dy="13">+onReceive(Context,Intent):void</tspan></text>
</g>

<g id="UsernamePassword" class="b">
<rect x="4790" y="727" width="223" height="358"/>
<line x1="4790" y1="767" x2="5013" y2="767"/><line x1="4790" y1="939" x2="5013" y2="939"/>
<text class="c" x="4901.5" y="738">&lt;&lt;Java Class&gt;&gt;</text>
<text class="c n" x="4901.5" y="751">UsernamePassword</text>
<text class="c p" x="4901.5" y="763">com.aChat</text>
<text x="4793" y="778.5"><tspan class="u">-TAG: String</tspan><tspan x="4793" dy="13">-loginsound: MediaPlayer</tspan><tspan x="4793" dy="13">-username: EditText</tspan><tspan x="4793" dy="13">-password: EditText</tspan><tspan x="4793" dy="13">-server: EditText</tspan><tspan x="4793" dy="13">-signInButton: Button</tspan><tspan x="4793" dy="13">-xmppManager: XmppManager</tspan><tspan x="4793" dy="13">-preferences: SharedPreferences</tspan><tspan x="4793" dy="13">-registerNewUser: TextView</tspan><tspan x="4793" dy="13">~dialog: ProgressDialog</tspan><tspan x="4793" dy="13">~text: TextView</tspan><tspan x="4793" dy="13" class="u">-DIALOG_KEY: int</tspan><tspan x="4793" dy="13" class="u">-DIALOG_KEY_ABOUT_ME: int</tspan></text>
<text x="4793" y="950.5"><tspan>+UsernamePassword()</tspan><tspan x="4793" dy="13">#onCreate(Bundle):void</tspan><tspan x="4793" dy="13">#onCreateDialog(int):Dialog</tspan><tspan x="4793" dy="13">+onCreateOptionsMenu(Menu):boolean</tspan><tspan x="4793" dy="13">+onMenuItemSelected(int,MenuItem):boolean</tspan><tspan x="4793" dy="13">+onClick(View):void</tspan><tspan x="4793" dy="13">#onResume():void</tspan><tspan x="4793" dy="13">#onPause():void</tspan><tspan x="4793" dy="13">#onStop():void</tspan><tspan x="4793" dy="13">#onDestroy():void</tspan><tspan x="4793" dy="13">#onRestart():void</tspan></text>
</g>

<g id="MsgListener" class="b">
<rect x="5055" y="727" width="205" height="215"/>
<line x1="5055" y1="767" x2="5260" y2="767"/><line x1="5055" y1="900" x2="5260" y2="900"/>
<text class="c" x="5157.5" y="738">&lt;&lt;Java Class&gt;&gt;</text>
<text class="c n" x="5157.5" y="751">MsgListener</text>
<text class="c p" x="5157.5" y="763">com.aChat</text>
<text x="5058" y="778.5"><tspan>~myaChatApplication: MyaChatApplication</tspan><tspan x="5058" dy="13">~xmppManager: XmppManager</tspan><tspan x="5058" dy="13">~connection: XMPPConnection</tspan><tspan x="5058" dy="13">~filter: PacketFilter</tspan><tspan x="5058" dy="13">~date: Date</tspan><tspan x="5058" dy="13">~msgRec: String</tspan><tspan x="5058" dy="13">~msgFrm: String</tspan><tspan x="5058" dy="13">~contentValues: ContentValues</tspan><tspan x="5058" dy="13">~dateFormat: SimpleDateFormat</tspan><tspan x="5058" dy="13">~username: String</tspan></text>
<text x="5058" y="911.5"><tspan>~MsgListener()</tspan><tspan x="5058" dy="13">+msgDisplay(Message):void</tspan><tspan x="5058" dy="13">+run():void</tspan></text>
</g>

<g id="NewMsgReceiver2" class="b">
<rect x="5301" y="727" width="159" height="72"/>
<line x1="5301" y1="767" x2="5460" y2="767"/><line x1="5301" y1="770" x2="5460" y2="770"/>
<text class="c" x="5380.5" y="738">&lt;&lt;Java Class&gt;&gt;</text>
<text class="c n" x="5380.5" y="751">NewMsgReceiver</text>
<text class="c p" x="5380.5" y="763">com.aChat</text>
<text x="5304" y="781.5"><tspan>~NewMsgReceiver()</tspan><tspan x="5304" dy="13">+onReceive(Context,Intent):void</tspan></text>
</g>

<g id="SmajlGetter" class="b">
<rect x="5502" y="727" width="157" height="85"/>
<line x1="5502" y1="767" x2="5659" y2="767"/><line x1="5502" y1="783" x2="5659" y2="783"/>
<text class="c" x="5580.5" y="738">&lt;&lt;Java Class&gt;&gt;</text>
<text class="c n" x="5580.5" y="751">SmajlGetter</text>
<text class="c p" x="5580.5" y="763">com.aChat</text>
<text x="5505" y="778.5">-r: Resources</text>
<text x="5505" y="794.5"><tspan>+SmajlGetter(Resources)</tspan><tspan x="5505" dy="13">+getDrawable(String):Drawable</tspan></text>
</g>

<g id="ChatListReceiver" class="b">
<rect x="5701" y="727" width="159" height="98"/>
<line x1="5701" y1="767" x2="5860" y2="767"/><line x1="5701" y1="796" x2="5860" y2="796"/>
<text class="c" x="5780.5" y="738">&lt;&lt;Java Class&gt;&gt;</text>
<text class="c n" x="5780.5" y="751">ChatListReceiver</text>
<text class="c p" x="5780.5" y="763">com.aChat</text>
<text x="5704" y="778.5"><tspan>-gotUser: String</tspan><tspan x="5704" dy="13">-gotText: String</tspan></text>
<text x="5704" y="807.5"><tspan>~ChatListReceiver()</tspan><tspan x="5704" dy="13">+onReceive(Context,Intent):void</tspan></text>
</g>

<g id="ColorPickerView" class="b">
<rect x="3251" y="1230" width="272" height="293"/>
<line x1="3251" y1="1270" x2="3523" y2="1270"/><line x1="3251" y1="1403" x2="3523" y2="1403"/>
<text class="c" x="3387" y="1241">&lt;&lt;Java Class&gt;&gt;</text>
<text class="c n" x="3387" y="1254">ColorPickerView</text>
<text class="c p" x="3387" y="1266">com.graphics</text>
<text x="3254" y="1281.5"><tspan>-mPaint: Paint</tspan><tspan x="3254" dy="13">-mCenterPaint: Paint</tspan><tspan x="3254" dy="13">-mColors: int[]</tspan><tspan x="3254" dy="13">-mListener: OnColorChangedListener</tspan><tspan x="3254" dy="13">-mTrackingCenter: boolean</tspan><tspan x="3254" dy="13">-mHighlightCenter: boolean</tspan><tspan x="3254" dy="13" class="u">-CENTER_X: int</tspan><tspan x="3254" dy="13" class="u">-CENTER_Y: int</tspan><tspan x="3254" dy="13" class="u">-CENTER_RADIUS: int</tspan><tspan x="3254" dy="13" class="u">-PI: float</tspan></text>
<text x="3254" y="1414.5"><tspan>~ColorPickerView(Context,OnColorChangedListener,int)</tspan><tspan x="3254" dy="13">#onDraw(Canvas):void</tspan><tspan x="3254" dy="13">#onMeasure(int,int):void</tspan><tspan x="3254" dy="13">-floatToByte(float):int</tspan><tspan x="3254" dy="13">-pinToByte(int):int</tspan><tspan x="3254" dy="13">-ave(int,int,float):int</tspan><tspan x="3254" dy="13">-interpColor(int[],float):int</tspan><tspan x="3254" dy="13">-rotateColor(int,float):int</tspan><tspan x="3254" dy="13">+onTouchEvent(MotionEvent):boolean</tspan></text>
</g>

<g id="ViewHolder" class="b">
<rect x="3869" y="1230" width="135" height="98"/>
<line x1="3869" y1="1270" x2="4004" y2="1270"/><line x1="3869" y1="1312" x2="4004" y2="1312"/>
<text class="c" x="3936.5" y="1241">&lt;&lt;Java Class&gt;&gt;</text>
<text class="c n" x="3936.5" y="1254">ViewHolder</text>
<text class="c p" x="3936.5" y="1266">com.aChat</text>
<text x="3872" y="1281.5"><tspan>~textUserName: TextView</tspan><tspan x="3872" dy="13">~textStatusMsg: TextView</tspan><tspan x="3872" dy="13">~iconPresence: ImageView</tspan></text>
<text x="3872" y="1323.5">~ViewHolder()</text>
</g>

<g id="OnColorChangedListener" class="b">
<rect x="4046" y="1230" width="151" height="59"/>
<line x1="4046" y1="1270" x2="4197" y2="1270"/><line x1="4046" y1="1273" x2="4197" y2="1273"/>
<text class="c" x="4121.5" y="1241">&lt;&lt;Java Interface&gt;&gt;</text>
<text class="c n" x="4121.5" y="1254">OnColorChangedListener</text>
<text class="c p" x="4121.5" y="1266">com.graphics</text>
<text x="4049" y="1284.5">+colorChanged(int):void</text>
</g>

<g id="LocalCoArray" class="b">
<rect x="4253" y="1230" width="113" height="124"/>
<line x1="4253" y1="1270" x2="4366" y2="1270"/><line x1="4253" y1="1338" x2="4366" y2="1338"/>
<text class="c" x="4309.5" y="1241">&lt;&lt;Java Class&gt;&gt;</text>
<text class="c n" x="4309.5" y="1254">LocalCoArray</text>
<text class="c p" x="4309.5" y="1266">com.graphics</text>
<text x="4256" y="1281.5"><tspan>+color: int</tspan><tspan x="4256" dy="13">+embossFlag: boolean</tspan><tspan x="4256" dy="13">+blurFlag: boolean</tspan><tspan x="4256" dy="13">+eraserFlag: boolean</tspan><tspan x="4256" dy="13">+scratchFlag: boolean</tspan></text>
<text x="4256" y="1349.5">+LocalCoArray(int)</text>
</g>

<g id="MyView" class="b">
<rect x="4408" y="1230" width="187" height="306"/>
<line x1="4408" y1="1270" x2="4595" y2="1270"/><line x1="4408" y1="1416" x2="4595" y2="1416"/>
<text class="c" x="4501.5" y="1241">&lt;&lt;Java Class&gt;&gt;</text>
<text class="c n" x="4501.5" y="1254">MyView</text>
<text class="c p" x="4501.5" y="1266">com.graphics</text>
<text x="4411" y="1281.5"><tspan class="u">-MINP: float</tspan><tspan x="4411" dy="13" class="u">-MAXP: float</tspan><tspan x="4411" dy="13">-mBitmap: Bitmap</tspan><tspan x="4411" dy="13">-mCanvas: Canvas</tspan><tspan x="4411" dy="13">-mPath: Path</tspan><tspan x="4411" dy="13">-mBitmapPaint: Paint</tspan><tspan x="4411" dy="13">~handler: Handler</tspan><tspan x="4411" dy="13">~coArray: CoordinateArray</tspan><tspan x="4411" dy="13">-mX: float</tspan><tspan x="4411" dy="13">-mY: float</tspan><tspan x="4411" dy="13" class="u">-TOUCH_TOLERANCE: float</tspan></text>
<text x="4411" y="1427.5"><tspan>+MyView(Context)</tspan><tspan x="4411" dy="13">+startListenter():void</tspan><tspan x="4411" dy="13">#onSizeChanged(int,int,int,int):void</tspan><tspan x="4411" dy="13">#onDraw(Canvas):void</tspan><tspan x="4411" dy="13">-touch_start(float,float):void</tspan><tspan x="4411" dy="13">-touch_move(float,float):void</tspan><tspan x="4411" dy="13">-touch_up():void</tspan><tspan x="4411" dy="13">+onTouchEvent(MotionEvent):boolean</tspan><tspan x="4411" dy="13">+recDrawprint(CoordinateArray):void</tspan></text>
</g>

<g id="InitiliseXmppConnection" class="b">
<rect x="4790" y="1230" width="168" height="85"/>
<line x1="4790" y1="1270" x2="4958" y2="1270"/><line x1="4790" y1="1273" x2="4958" y2="1273"/>
<text class="c" x="4874" y="1241">&lt;&lt;Java Class&gt;&gt;</text>
<text class="c n" x="4874" y="1254">InitiliseXmppConnection</text>
<text class="c p" x="4874" y="1266">com.aChat</text>
<text x="4793" y="1284.5"><tspan>-InitiliseXmppConnection()</tspan><tspan x="4793" dy="13">#doInBackground(String[]):Integer</tspan><tspan x="4793" dy="13">#onPostExecute(Integer):void</tspan></text>
</g>
</g>
</svg>
